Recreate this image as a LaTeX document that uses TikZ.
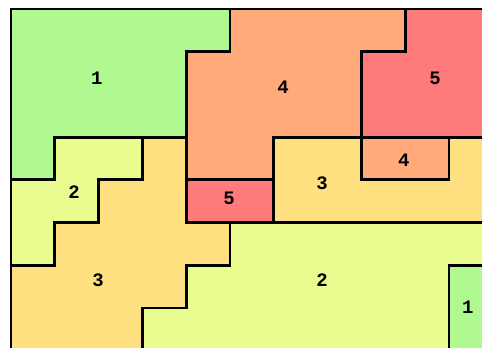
\documentclass[tikz,border=0pt]{standalone}
\usepackage{fontspec}
\usepackage{tikz}
\newfontfamily\digitfont{Liberation Mono}
\definecolor{zoneone}{RGB}{176, 248, 144}
\definecolor{zonetwo}{RGB}{232, 252, 144}
\definecolor{zonethree}{RGB}{255, 224, 128}
\definecolor{zonefour}{RGB}{255, 170, 120}
\definecolor{zonefive}{RGB}{255, 122, 122}

\begin{document}
\begin{tikzpicture}[x=43.8pt, y=-42.7pt,
    zoneline/.style={black, line width=2.8pt, line join=miter},
    zonelabel/.style={font=\digitfont\bfseries\fontsize{19}{19}\selectfont, inner sep=0pt}]

% picture frame: grid origin sits at pixel (11,9)
\useasboundingbox (-0.2511, -0.2108) rectangle (10.753, 7.916);
\clip (-0.2511, -0.2108) rectangle (10.753, 7.916);

% top row
\fill[zoneone]   (0,0) -- (5,0) -- (5,1) -- (4,1) -- (4,3) -- (1,3) -- (1,4) -- (0,4) -- cycle;
\fill[zonefour]  (5,0) -- (9,0) -- (9,1) -- (8,1) -- (8,3) -- (6,3) -- (6,4) -- (4,4) -- (4,1) -- (5,1) -- cycle;
\fill[zonefive]  (9,0) -- (11,0) -- (11,3) -- (8,3) -- (8,1) -- (9,1) -- cycle;

% middle band
\fill[zonethree] (6,3) -- (11,3) -- (11,5) -- (6,5) -- cycle;
\fill[zonefour]  (8,3) rectangle (10,4);
\fill[zonefive]  (4,4) rectangle (6,5);
\fill[zonetwo]   (0,4) -- (1,4) -- (1,3) -- (3,3) -- (3,4) -- (2,4) -- (2,5) -- (1,5) -- (1,6) -- (0,6) -- cycle;

% lower staircase
\fill[zonethree] (3,3) -- (4,3) -- (4,5) -- (5,5) -- (5,6) -- (4,6) -- (4,7) -- (3,7) -- (3,8)
                 -- (0,8) -- (0,6) -- (1,6) -- (1,5) -- (2,5) -- (2,4) -- (3,4) -- cycle;
\fill[zonetwo]   (5,5) -- (11,5) -- (11,8) -- (3,8) -- (3,7) -- (4,7) -- (4,6) -- (5,6) -- cycle;
\fill[zoneone]   (10,6) rectangle (11,8);

% outlines
\draw[zoneline] (0,0) -- (5,0) -- (5,1) -- (4,1) -- (4,3) -- (1,3) -- (1,4) -- (0,4) -- cycle;
\draw[zoneline] (5,0) -- (9,0) -- (9,1) -- (8,1) -- (8,3) -- (6,3) -- (6,4) -- (4,4) -- (4,1) -- (5,1) -- cycle;
\draw[zoneline] (9,0) -- (11,0) -- (11,3) -- (8,3) -- (8,1) -- (9,1) -- cycle;
\draw[zoneline] (6,3) -- (11,3) -- (11,5) -- (6,5) -- cycle;
\draw[zoneline] (8,3) rectangle (10,4);
\draw[zoneline] (4,4) rectangle (6,5);
\draw[zoneline] (0,4) -- (1,4) -- (1,3) -- (3,3) -- (3,4) -- (2,4) -- (2,5) -- (1,5) -- (1,6) -- (0,6) -- cycle;
\draw[zoneline] (3,3) -- (4,3) -- (4,5) -- (5,5) -- (5,6) -- (4,6) -- (4,7) -- (3,7) -- (3,8)
                -- (0,8) -- (0,6) -- (1,6) -- (1,5) -- (2,5) -- (2,4) -- (3,4) -- cycle;
\draw[zoneline] (5,5) -- (11,5) -- (11,8) -- (3,8) -- (3,7) -- (4,7) -- (4,6) -- (5,6) -- cycle;
\draw[zoneline] (10,6) rectangle (11,8);

% zone numbers
\node[zonelabel] (oneA)   at (1.96, 1.62)  {1};
\node[zonelabel] (fourA)  at (6.21, 1.83)  {4};
\node[zonelabel] (fiveA)  at (9.68, 1.62)  {5};
\node[zonelabel] (twoA)   at (1.44, 4.29)  {2};
\node[zonelabel] (fiveB)  at (4.98, 4.43)  {5};
\node[zonelabel] (threeA) at (7.10, 4.07)  {3};
\node[zonelabel] (fourB)  at (8.97, 3.54)  {4};
\node[zonelabel] (threeB) at (1.99, 6.35)  {3};
\node[zonelabel] (twoB)   at (7.10, 6.35)  {2};
\node[zonelabel] (oneB)   at (10.43, 6.98) {1};

\end{tikzpicture}
\end{document}
